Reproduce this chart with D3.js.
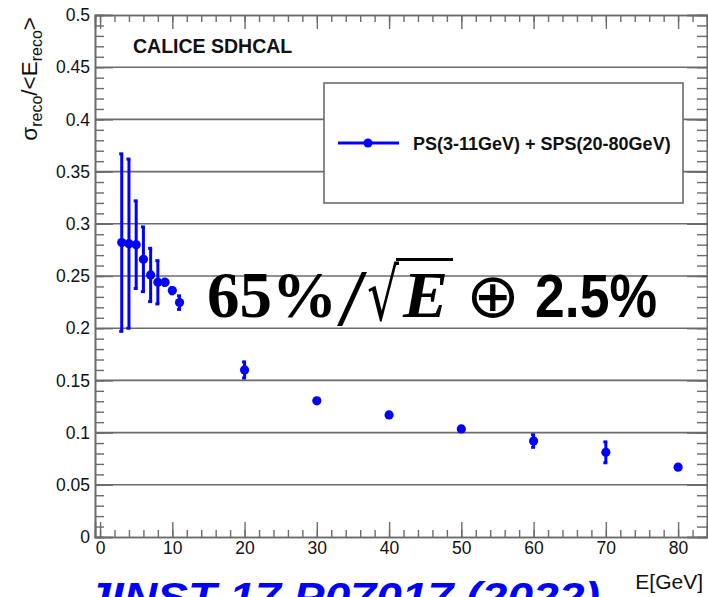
<!DOCTYPE html>
<html>
<head>
<meta charset="utf-8">
<script src="https://cdn.jsdelivr.net/npm/d3@7"></script>
<style>
  html, body { margin: 0; padding: 0; background: #fff; }
  svg { display: block; font-family: "Liberation Sans", Arial, Helvetica, sans-serif; }
</style>
</head>
<body>
<svg id="chart" width="708" height="597"></svg>
<script>
// Beam energies (GeV): PS runs 3-11 GeV, SPS runs 20-80 GeV
const energies   = [3, 4, 5, 6, 7, 8, 9, 10, 11, 20, 30, 40, 50, 60, 70, 80];
// Relative energy resolution sigma_reco / <E_reco>
const resolution = [0.282, 0.281, 0.280, 0.266, 0.251, 0.244, 0.244, 0.236, 0.2245,
                    0.160, 0.1304, 0.1169, 0.1035, 0.0919, 0.0811, 0.0669];
// Uncertainty on the resolution
const resError   = [0.085, 0.081, 0.042, 0.031, 0.0255, 0.0207, 0.003, 0.003, 0.0065,
                    0.0077, 0.002, 0.002, 0.002, 0.006, 0.010, 0.002];

const xTickLabels = [0, 10, 20, 30, 40, 50, 60, 70, 80];
const yTickLabels = [0, 0.05, 0.1, 0.15, 0.2, 0.25, 0.3, 0.35, 0.4, 0.45, 0.5];
const xMinorTicks = d3.range(0, 84, 2);
const yMinorTicks = d3.range(0, 0.501, 0.01).map(v => +v.toFixed(2));

const seriesName = "PS(3-11GeV) + SPS(20-80GeV)";
const blue = "#0000ff";
const frameColor = "#6b6b6b";

const svg = d3.select("#chart");
const frameL = 95, frameR = 707, frameT = 15, frameB = 537;

const x = d3.scaleLinear().domain([-0.7, 84.0]).range([frameL, frameR]);
const y = d3.scaleLinear().domain([0, 0.5]).range([frameB, frameT]);

// Horizontal grid lines
svg.append("g").selectAll("line")
  .data(yTickLabels.filter(v => v > 0 && v < 0.5))
  .join("line")
  .attr("x1", frameL).attr("x2", frameR)
  .attr("y1", d => y(d)).attr("y2", d => y(d))
  .attr("stroke", frameColor).attr("stroke-width", 1.6);

// Axes: ticks point into the frame, minor ticks as separate axes
function styleAxis(g) {
  g.selectAll(".domain").attr("stroke", frameColor).attr("stroke-width", 1.6);
  g.selectAll(".tick line").attr("stroke", frameColor).attr("stroke-width", 1.4);
  g.selectAll(".tick text").attr("fill", "#111").attr("font-size", 17.5)
    .attr("font-family", "Liberation Sans, Arial, sans-serif");
}
const fmtY = d => d === 0 ? "0" : String(+d.toFixed(2));

svg.append("g").attr("transform", `translate(0,${frameB})`)
  .call(d3.axisBottom(x).tickValues(xMinorTicks).tickSize(-7).tickFormat(""))
  .call(styleAxis);
svg.append("g").attr("transform", `translate(0,${frameB})`)
  .call(d3.axisBottom(x).tickValues(xTickLabels).tickSize(-15).tickPadding(5).tickFormat(d3.format("d")))
  .call(styleAxis);
svg.append("g").attr("transform", `translate(0,${frameT})`)
  .call(d3.axisTop(x).tickValues(xMinorTicks).tickSize(-7).tickFormat(""))
  .call(styleAxis);
svg.append("g").attr("transform", `translate(0,${frameT})`)
  .call(d3.axisTop(x).tickValues(xTickLabels).tickSize(-14).tickFormat(""))
  .call(styleAxis);

svg.append("g").attr("transform", `translate(${frameL},0)`)
  .call(d3.axisLeft(y).tickValues(yMinorTicks).tickSize(-9).tickFormat(""))
  .call(styleAxis);
svg.append("g").attr("transform", `translate(${frameL},0)`)
  .call(d3.axisLeft(y).tickValues(yTickLabels).tickSize(-18).tickPadding(5).tickFormat(fmtY))
  .call(styleAxis);
svg.append("g").attr("transform", `translate(${frameR},0)`)
  .call(d3.axisRight(y).tickValues(yMinorTicks).tickSize(-10).tickFormat(""))
  .call(styleAxis);
svg.append("g").attr("transform", `translate(${frameR},0)`)
  .call(d3.axisRight(y).tickValues(yTickLabels).tickSize(-20).tickFormat(""))
  .call(styleAxis);

// Axis titles
const yTitle = svg.append("text")
  .attr("transform", `translate(37,${frameT + 2}) rotate(-90)`)
  .attr("text-anchor", "end")
  .attr("font-size", 22.5).attr("fill", "#111");
yTitle.append("tspan").text("σ");
yTitle.append("tspan").attr("font-size", 16).attr("dy", 4.5).text("reco");
yTitle.append("tspan").attr("dy", -4.5).text("/<E");
yTitle.append("tspan").attr("font-size", 16).attr("dy", 4.5).text("reco");
yTitle.append("tspan").attr("dy", -4.5).text(">");

svg.append("text")
  .attr("x", 703).attr("y", 589).attr("text-anchor", "end")
  .attr("font-size", 21).attr("fill", "#111").text("E[GeV]");

// Experiment label
svg.append("text")
  .attr("x", 133).attr("y", 53)
  .attr("font-size", 19.5).attr("font-weight", "bold").attr("fill", "#111")
  .text("CALICE SDHCAL");

// Legend
const legend = svg.append("g");
legend.append("rect")
  .attr("x", 324).attr("y", 83).attr("width", 359).attr("height", 120)
  .attr("fill", "#fff").attr("stroke", frameColor).attr("stroke-width", 1.6);
legend.append("line")
  .attr("x1", 338).attr("x2", 399).attr("y1", 143).attr("y2", 143)
  .attr("stroke", blue).attr("stroke-width", 3);
legend.append("circle").attr("cx", 368).attr("cy", 143).attr("r", 4.5).attr("fill", blue);
legend.append("text")
  .attr("x", 413).attr("y", 150)
  .attr("font-size", 18).attr("font-weight", "bold").attr("fill", "#111")
  .text(seriesName);

// Data: error bars and markers
const pts = energies.map((e, i) => ({ e, v: resolution[i], err: resError[i] }));
const bars = svg.append("g").attr("stroke", blue).attr("stroke-width", 3);
bars.selectAll("line.bar").data(pts).join("line").attr("class", "bar")
  .attr("x1", d => x(d.e)).attr("x2", d => x(d.e))
  .attr("y1", d => y(d.v + d.err)).attr("y2", d => y(d.v - d.err));
bars.selectAll("line.capTop").data(pts).join("line").attr("class", "capTop")
  .attr("x1", d => x(d.e) - 2.5).attr("x2", d => x(d.e) + 1.5)
  .attr("y1", d => y(d.v + d.err)).attr("y2", d => y(d.v + d.err));
bars.selectAll("line.capBot").data(pts).join("line").attr("class", "capBot")
  .attr("x1", d => x(d.e) - 2.5).attr("x2", d => x(d.e) + 1.5)
  .attr("y1", d => y(d.v - d.err)).attr("y2", d => y(d.v - d.err));
svg.append("g").selectAll("circle").data(pts).join("circle")
  .attr("cx", d => x(d.e)).attr("cy", d => y(d.v)).attr("r", 4.6).attr("fill", blue);

// Resolution parametrisation
const f = svg.append("g").attr("fill", "#000");
f.append("text").attr("x", 207).attr("y", 317)
  .attr("font-family", "Liberation Serif, Times New Roman, serif").attr("font-weight", "bold")
  .attr("font-size", 66).attr("textLength", 130).attr("lengthAdjust", "spacingAndGlyphs")
  .text("65%");
f.append("text").attr("x", 337).attr("y", 325)
  .attr("font-family", "Liberation Serif, Times New Roman, serif")
  .attr("font-size", 80).attr("textLength", 30).attr("lengthAdjust", "spacingAndGlyphs")
  .text("/");
f.append("text").attr("x", 367).attr("y", 320)
  .attr("font-family", "DejaVu Sans, sans-serif")
  .attr("font-size", 72).attr("textLength", 32).attr("lengthAdjust", "spacingAndGlyphs")
  .text("√");
f.append("line").attr("x1", 396).attr("x2", 453).attr("y1", 259.5).attr("y2", 259.5)
  .attr("stroke", "#000").attr("stroke-width", 3);
f.append("text").attr("x", 403).attr("y", 317)
  .attr("font-family", "Liberation Serif, Times New Roman, serif")
  .attr("font-weight", "bold").attr("font-style", "italic")
  .attr("font-size", 66).attr("textLength", 45).attr("lengthAdjust", "spacingAndGlyphs")
  .text("E");
f.append("text").attr("x", 466).attr("y", 317)
  .attr("font-family", "DejaVu Sans, sans-serif")
  .attr("font-size", 62).attr("textLength", 54).attr("lengthAdjust", "spacingAndGlyphs")
  .text("⊕");
f.append("text").attr("x", 535).attr("y", 317)
  .attr("font-family", "Liberation Sans, Arial, sans-serif").attr("font-weight", "bold")
  .attr("font-size", 61).attr("textLength", 122).attr("lengthAdjust", "spacingAndGlyphs")
  .text("2.5%");

// Publication reference along the bottom edge
svg.append("text")
  .attr("x", 85).attr("y", 611)
  .attr("font-size", 40).attr("font-weight", "bold").attr("font-style", "italic")
  .attr("fill", blue).attr("textLength", 515).attr("lengthAdjust", "spacingAndGlyphs")
  .text("JINST 17 P07017 (2022)");
</script>
</body>
</html>
